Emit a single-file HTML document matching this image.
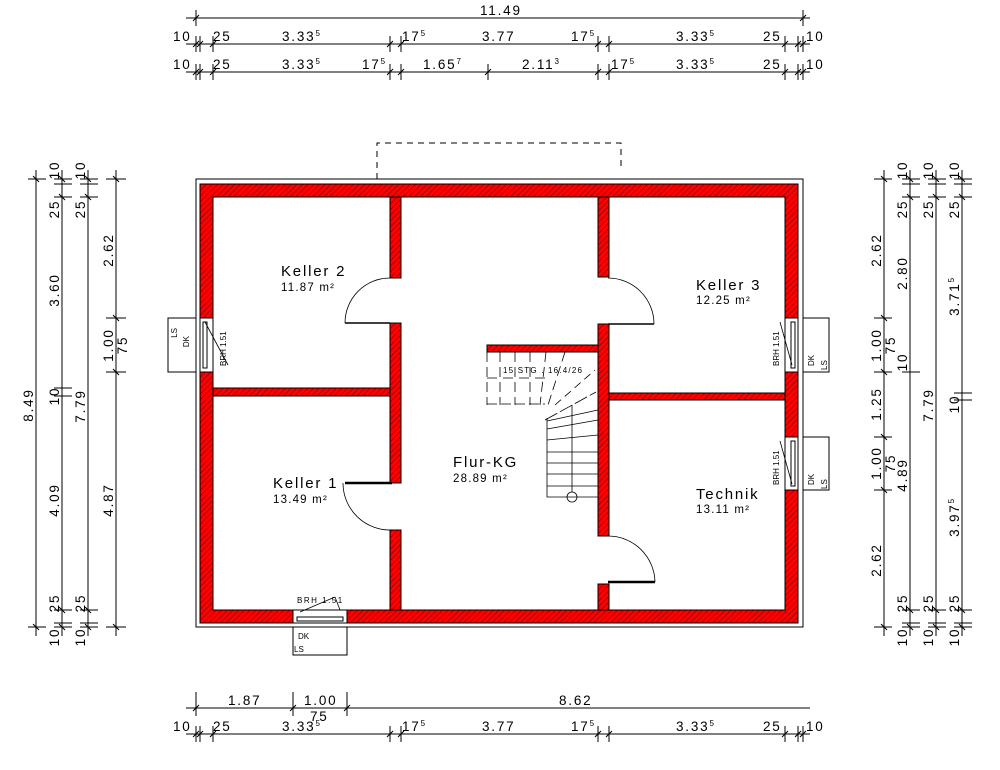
<!DOCTYPE html>
<html><head><meta charset="utf-8"><style>
html,body{margin:0;padding:0;background:#fff}
svg{display:block}
text{font-family:"Liberation Sans",sans-serif;fill:#000}
.d{font-size:13.5px;letter-spacing:1.8px}
.s{font-size:8px}
.r{font-size:15px;letter-spacing:1.8px}
.a{font-size:11.5px;letter-spacing:1.2px}
</style></head><body>
<svg width="1000" height="770" viewBox="0 0 1000 770" xmlns="http://www.w3.org/2000/svg">
<defs>
<pattern id="h" width="4" height="4" patternUnits="userSpaceOnUse" patternTransform="rotate(45)">
<rect width="4" height="4" fill="#f00"/><line x1="0" y1="0" x2="0" y2="4" stroke="#500" stroke-width="0.9"/>
</pattern>
</defs>
<g stroke="#000" stroke-width="1" fill="none">
<rect x="196" y="179" width="607" height="448"/>
<polyline points="377,179 377,143 621,143 621,170" stroke-dasharray="6,5"/>
</g>
<g fill="url(#h)" stroke="#000" stroke-width="1">
<path d="M200,184 H798 V623 H200 Z M213,197 V610 H785 V197 Z" fill-rule="evenodd"/>
<rect x="390" y="197" width="11" height="81"/>
<rect x="390" y="323" width="11" height="160"/>
<rect x="390" y="530" width="11" height="80"/>
<rect x="213" y="388" width="177" height="8"/>
<rect x="598" y="197" width="11" height="80"/>
<rect x="598" y="324" width="11" height="212"/>
<rect x="598" y="584" width="11" height="26"/>
<rect x="609" y="393" width="176" height="7"/>
<rect x="487" y="345" width="111" height="7"/>
</g>
<g fill="#fff" stroke="#000" stroke-width="1">
<rect x="200" y="318" width="13" height="54"/><rect x="203" y="322" width="4" height="46"/>
<rect x="168" y="318" width="28" height="54"/>
<rect x="785" y="318" width="13" height="54"/><rect x="791" y="322" width="4" height="46"/>
<rect x="803" y="318" width="26" height="54"/>
<rect x="785" y="437" width="13" height="53"/><rect x="791" y="441" width="4" height="45"/>
<rect x="803" y="437" width="26" height="53"/>
<rect x="293" y="610" width="54" height="13"/><rect x="297" y="617" width="46" height="4"/>
<rect x="293" y="627" width="54" height="28"/>
</g>
<g stroke="#000" stroke-width="0.8" fill="none">
<line x1="205" y1="322" x2="228" y2="365"/>
<line x1="780" y1="322" x2="792" y2="365"/>
<line x1="780" y1="441" x2="792" y2="484"/>
<line x1="300" y1="612" x2="335" y2="597"/><line x1="335" y1="597" x2="340" y2="610"/>
<path d="M390,278 A45,45 0 0 0 345,323"/>
<path d="M608,278 A46,46 0 0 1 654,324"/>
<path d="M343,483 A47,47 0 0 0 392,530"/>
<path d="M608,536 A47,47 0 0 1 655,582"/>
</g>
<g stroke="#000" stroke-width="2.5">
<line x1="345" y1="323" x2="390" y2="323" stroke-width="1.5"/>
<line x1="608" y1="324" x2="654" y2="324" stroke-width="1.5"/>
<line x1="345" y1="483" x2="392" y2="483"/>
<line x1="608" y1="582" x2="655" y2="582"/>
</g>
<g stroke="#000" stroke-width="0.8" fill="none">
<polyline points="547,418 547,497 598,497"/>
<line x1="572" y1="405" x2="572" y2="492"/><circle cx="572" cy="497" r="5"/>
<line x1="547" y1="421" x2="598" y2="410"/><line x1="547" y1="429" x2="598" y2="420"/>
<line x1="547" y1="440" x2="598" y2="435"/>
<line x1="547" y1="452" x2="598" y2="452"/><line x1="547" y1="463" x2="598" y2="463"/>
<line x1="547" y1="474" x2="598" y2="474"/><line x1="547" y1="486" x2="598" y2="486"/>
<line x1="545" y1="420" x2="596" y2="392" stroke-dasharray="14,3"/>
<line x1="555" y1="405" x2="595" y2="370" stroke-dasharray="8,5"/>
<line x1="487" y1="352" x2="487" y2="405" stroke-dasharray="10,5"/>
<line x1="500" y1="352" x2="500" y2="405" stroke-dasharray="10,5"/>
<line x1="515" y1="352" x2="515" y2="405" stroke-dasharray="10,5"/>
<line x1="530" y1="352" x2="530" y2="405" stroke-dasharray="10,5"/>
<line x1="546" y1="352" x2="540" y2="405" stroke-dasharray="10,5"/>
<line x1="565" y1="352" x2="548" y2="405" stroke-dasharray="10,5"/>
<line x1="487" y1="404" x2="545" y2="404" stroke-dasharray="10,4"/>
<line x1="487" y1="378" x2="545" y2="378" stroke-dasharray="10,6"/>
</g>
<text x="503" y="373" class="s" letter-spacing="1.2">15 STG . 16.4/26</text>
<text x="281" y="276" class="r">Keller 2</text><text x="281" y="291" class="a">11.87 m²</text>
<text x="696" y="290" class="r">Keller 3</text><text x="696" y="304" class="a">12.25 m²</text>
<text x="273" y="488" class="r">Keller 1</text><text x="273" y="503" class="a">13.49 m²</text>
<text x="453" y="467" class="r">Flur-KG</text><text x="453" y="482" class="a">28.89 m²</text>
<text x="696" y="499" class="r">Technik</text><text x="696" y="513" class="a">13.11 m²</text>
<g class="s">
<text transform="translate(177,328) rotate(-90)" text-anchor="end">LS</text>
<text transform="translate(189,336) rotate(-90)" text-anchor="end">DK</text>
<text transform="translate(226,366) rotate(-90)">BRH 1.51</text>
<text transform="translate(779,366) rotate(-90)">BRH 1.51</text>
<text transform="translate(779,485) rotate(-90)">BRH 1.51</text>
<text transform="translate(814,366) rotate(-90)">DK</text>
<text transform="translate(827,370) rotate(-90)">LS</text>
<text transform="translate(814,485) rotate(-90)">DK</text>
<text transform="translate(827,489) rotate(-90)">LS</text>
<text x="297" y="603" letter-spacing="1.5">BRH 1.51</text>
<text x="298" y="639">DK</text><text x="294" y="652">LS</text>
</g>
<g stroke="#000" stroke-width="1" fill="none">
<line x1="186" y1="18" x2="810" y2="18"/>
<line x1="186" y1="44" x2="810" y2="44"/>
<line x1="186" y1="72" x2="810" y2="72"/>
<line x1="186" y1="708" x2="810" y2="708"/>
<line x1="186" y1="734" x2="810" y2="734"/>
<line x1="36" y1="170" x2="36" y2="636"/>
<line x1="62" y1="170" x2="62" y2="636"/>
<line x1="88" y1="170" x2="88" y2="636"/>
<line x1="116" y1="170" x2="116" y2="636"/>
<line x1="884" y1="170" x2="884" y2="636"/>
<line x1="910" y1="170" x2="910" y2="636"/>
<line x1="936" y1="170" x2="936" y2="636"/>
<line x1="962" y1="170" x2="962" y2="636"/>
<path d="M196,10V26 M803,10V26"/>
<path d="M196,36V52 M200,36V52 M213,36V52 M390,36V52 M401,36V52 M598,36V52 M609,36V52 M785,36V52 M798,36V52 M803,36V52"/>
<path d="M196,64V80 M200,64V80 M213,64V80 M390,64V80 M401,64V80 M488,64V80 M598,64V80 M609,64V80 M785,64V80 M798,64V80 M803,64V80"/>
<path d="M196,692V716 M293,692V716 M347,692V716 M196,726V742 M200,726V742 M213,726V742 M390,726V742 M401,726V742 M598,726V742 M609,726V742 M785,726V742 M798,726V742 M803,726V742"/>
<path d="M28,179H46 M28,627H46"/>
<path d="M54,179H72 M54,184H72 M54,197H72 M54,388H72 M54,396H72 M54,610H72 M54,623H72 M54,627H72"/>
<path d="M80,179H98 M80,184H98 M80,197H98 M80,610H98 M80,623H98 M80,627H98"/>
<path d="M106,179H126 M106,318H126 M106,372H126 M106,627H126"/>
<path d="M874,179H892 M874,318H892 M874,372H892 M874,437H892 M874,490H892 M874,627H892"/>
<path d="M902,179H920 M902,184H920 M902,197H920 M902,372H920 M902,610H920 M902,623H920 M902,627H920"/>
<path d="M928,179H946 M928,184H946 M928,197H946 M928,610H946 M928,623H946 M928,627H946"/>
<path d="M954,179H972 M954,184H972 M954,197H972 M954,393H972 M954,400H972 M954,610H972 M954,623H972 M954,627H972"/>
<!-- slash ticks -->
<path d="M193,21l6,-6 M800,21l6,-6 M193,47l6,-6 M197,47l6,-6 M210,47l6,-6 M387,47l6,-6 M398,47l6,-6 M595,47l6,-6 M606,47l6,-6 M782,47l6,-6 M795,47l6,-6 M800,47l6,-6 M193,75l6,-6 M197,75l6,-6 M210,75l6,-6 M387,75l6,-6 M398,75l6,-6 M485,75l6,-6 M595,75l6,-6 M606,75l6,-6 M782,75l6,-6 M795,75l6,-6 M800,75l6,-6 M193,711l6,-6 M290,711l6,-6 M344,711l6,-6 M193,737l6,-6 M197,737l6,-6 M210,737l6,-6 M387,737l6,-6 M398,737l6,-6 M595,737l6,-6 M606,737l6,-6 M782,737l6,-6 M795,737l6,-6 M800,737l6,-6"/>
<path d="M33,176l6,6 M33,624l6,6 M59,176l6,6 M59,194l6,6 M59,607l6,6 M59,624l6,6 M85,176l6,6 M85,194l6,6 M85,607l6,6 M85,624l6,6 M113,176l6,6 M113,315l6,6 M113,369l6,6 M113,624l6,6 M881,176l6,6 M881,315l6,6 M881,369l6,6 M881,434l6,6 M881,487l6,6 M881,624l6,6 M907,176l6,6 M907,194l6,6 M907,607l6,6 M907,624l6,6 M933,176l6,6 M933,194l6,6 M933,607l6,6 M933,624l6,6 M959,176l6,6 M959,194l6,6 M959,607l6,6 M959,624l6,6"/>
</g>
<g class="d">
<text x="480" y="15">11.49</text>
<text x="173" y="41">10</text><text x="213" y="41">25</text><text x="282" y="41">3.33<tspan dy="-5" font-size="8">5</tspan></text>
<text x="402" y="41">17<tspan dy="-5" font-size="8">5</tspan></text><text x="482" y="41">3.77</text><text x="571" y="41">17<tspan dy="-5" font-size="8">5</tspan></text>
<text x="676" y="41">3.33<tspan dy="-5" font-size="8">5</tspan></text><text x="763" y="41">25</text><text x="806" y="41">10</text>
<text x="173" y="69">10</text><text x="213" y="69">25</text><text x="282" y="69">3.33<tspan dy="-5" font-size="8">5</tspan></text>
<text x="362" y="69">17<tspan dy="-5" font-size="8">5</tspan></text><text x="423" y="69">1.65<tspan dy="-5" font-size="8">7</tspan></text>
<text x="522" y="69">2.11<tspan dy="-5" font-size="8">3</tspan></text>
<text x="611" y="69">17<tspan dy="-5" font-size="8">5</tspan></text><text x="676" y="69">3.33<tspan dy="-5" font-size="8">5</tspan></text><text x="763" y="69">25</text><text x="806" y="69">10</text>
<text x="228" y="705">1.87</text><text x="304" y="705">1.00</text><text x="310" y="721">75</text><text x="559" y="705">8.62</text>
<text x="173" y="731">10</text><text x="213" y="731">25</text><text x="282" y="731">3.33<tspan dy="-5" font-size="8">5</tspan></text>
<text x="402" y="731">17<tspan dy="-5" font-size="8">5</tspan></text><text x="482" y="731">3.77</text><text x="571" y="731">17<tspan dy="-5" font-size="8">5</tspan></text>
<text x="676" y="731">3.33<tspan dy="-5" font-size="8">5</tspan></text><text x="763" y="731">25</text><text x="806" y="731">10</text>
</g>
<g class="d" text-anchor="middle">
<text transform="translate(33,405) rotate(-90)">8.49</text>
<text transform="translate(59,170) rotate(-90)">10</text>
<text transform="translate(59,209) rotate(-90)">25</text>
<text transform="translate(59,290) rotate(-90)">3.60</text>
<text transform="translate(59,396) rotate(-90)">10</text>
<text transform="translate(59,500) rotate(-90)">4.09</text>
<text transform="translate(59,603) rotate(-90)">25</text>
<text transform="translate(59,637) rotate(-90)">10</text>
<text transform="translate(85,170) rotate(-90)">10</text>
<text transform="translate(85,209) rotate(-90)">25</text>
<text transform="translate(85,406) rotate(-90)">7.79</text>
<text transform="translate(85,603) rotate(-90)">25</text>
<text transform="translate(85,637) rotate(-90)">10</text>
<text transform="translate(113,250) rotate(-90)">2.62</text>
<text transform="translate(113,345) rotate(-90)">1.00</text>
<text transform="translate(127,345) rotate(-90)">75</text>
<text transform="translate(113,500) rotate(-90)">4.87</text>
<text transform="translate(881,250) rotate(-90)">2.62</text>
<text transform="translate(881,345) rotate(-90)">1.00</text>
<text transform="translate(881,404) rotate(-90)">1.25</text>
<text transform="translate(881,463) rotate(-90)">1.00</text>
<text transform="translate(881,560) rotate(-90)">2.62</text>
<text transform="translate(895,345) rotate(-90)">75</text>
<text transform="translate(895,463) rotate(-90)">75</text>
<text transform="translate(907,170) rotate(-90)">10</text>
<text transform="translate(907,209) rotate(-90)">25</text>
<text transform="translate(907,273) rotate(-90)">2.80</text>
<text transform="translate(907,362) rotate(-90)">10</text>
<text transform="translate(907,475) rotate(-90)">4.89</text>
<text transform="translate(907,603) rotate(-90)">25</text>
<text transform="translate(907,637) rotate(-90)">10</text>
<text transform="translate(933,170) rotate(-90)">10</text>
<text transform="translate(933,209) rotate(-90)">25</text>
<text transform="translate(933,405) rotate(-90)">7.79</text>
<text transform="translate(933,603) rotate(-90)">25</text>
<text transform="translate(933,637) rotate(-90)">10</text>
<text transform="translate(959,170) rotate(-90)">10</text>
<text transform="translate(959,209) rotate(-90)">25</text>
<text transform="translate(959,296) rotate(-90)">3.71<tspan dy="-5" font-size="8">5</tspan></text>
<text transform="translate(959,404) rotate(-90)">10</text>
<text transform="translate(959,517) rotate(-90)">3.97<tspan dy="-5" font-size="8">5</tspan></text>
<text transform="translate(959,603) rotate(-90)">25</text>
<text transform="translate(959,637) rotate(-90)">10</text>
</g>
</svg>
</body></html>
